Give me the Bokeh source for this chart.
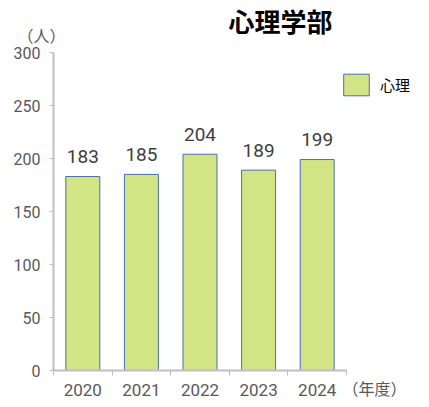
from bokeh.plotting import figure
from bokeh.models import (FixedTicker, Label, Legend, LegendItem, ColumnDataSource, Range1d)
from bokeh.core.properties import value
from bokeh.embed import file_html
from bokeh.resources import INLINE

years = ["2020", "2021", "2022", "2023", "2024"]
counts = [183, 185, 204, 189, 199]
y_ticks = [0, 50, 100, 150, 200, 250, 300]
title_text = "心理学部"
series_name = "心理"
y_unit = "（人）"
x_unit = "（年度）"

NUM_FONT = "Roboto"
CJK_FONT = "Noto Sans CJK JP"
TICK_COLOR = "#595959"
AXIS_COLOR = "#bfbfbf"

W, H = 429, 407
# plot area in pixels (frame covers whole figure, axes pinned to the data origin)
PX_L, PX_R, PX_T, PX_B = 53, 346, 52, 370
n = len(years)
y_max = y_ticks[-1]
sx = (PX_R - PX_L) / n
sy = (PX_B - PX_T) / y_max

xs = [i + 0.5 for i in range(n)]
src = ColumnDataSource(dict(x=xs, top=counts, label=[str(c) for c in counts]))

p = figure(width=W, height=H, output_backend="svg", toolbar_location=None,
           x_range=Range1d(-PX_L / sx, (W - PX_L) / sx),
           y_range=Range1d(-(H - PX_B) / sy, y_max + PX_T / sy),
           min_border=0)
p.outline_line_color = None
p.xgrid.visible = False
p.ygrid.visible = False
p.background_fill_color = "white"
p.border_fill_color = "white"

bars = p.vbar(x="x", top="top", width=0.58, source=src,
              fill_color="#d3e485", line_color="#4a6db5", line_width=1)

p.text(x="x", y="top", text="label", source=src, text_align="center",
       text_baseline="alphabetic", y_offset=-20,
       text_font=value(NUM_FONT), text_font_size="19px", text_color="#404040")

# y axis
ya = p.yaxis[0]
ya.fixed_location = 0
ya.bounds = (0, y_max)
ya.ticker = FixedTicker(ticks=y_ticks)
ya.axis_line_color = AXIS_COLOR
ya.axis_line_width = 2
ya.major_tick_line_color = AXIS_COLOR
ya.major_tick_line_width = 1
ya.major_tick_out = 4
ya.major_tick_in = 0
ya.minor_tick_line_color = None
ya.major_label_standoff = 9
ya.major_label_text_font = NUM_FONT
ya.major_label_text_font_size = "16px"
ya.major_label_text_color = TICK_COLOR

# x axis
xa = p.xaxis[0]
xa.fixed_location = 0
xa.bounds = (0, n)
xa.ticker = FixedTicker(ticks=xs, minor_ticks=list(range(n + 1)))
xa.major_label_overrides = {x: y for x, y in zip(xs, years)}
xa.axis_line_color = AXIS_COLOR
xa.axis_line_width = 2
xa.major_tick_line_color = None
xa.major_tick_out = 0
xa.major_tick_in = 0
xa.minor_tick_line_color = AXIS_COLOR
xa.minor_tick_out = 5
xa.minor_tick_in = 0
xa.major_label_standoff = 8
xa.major_label_text_font = NUM_FONT
xa.major_label_text_font_size = "17px"
xa.major_label_text_color = TICK_COLOR

# annotations
p.add_layout(Label(x=0, y=y_max, x_offset=-12, y_offset=18, text=y_unit,
                   text_align="center", text_baseline="middle",
                   text_font=CJK_FONT, text_font_size="16px", text_color=TICK_COLOR))
p.add_layout(Label(x=n, y=0, x_offset=-4, y_offset=-17, text=x_unit,
                   text_align="left", text_baseline="middle",
                   text_font=CJK_FONT, text_font_size="16px", text_color=TICK_COLOR))
p.add_layout(Label(x=n, y=y_max, x_offset=-66, y_offset=32, text=title_text,
                   text_align="center", text_baseline="middle",
                   text_font=CJK_FONT, text_font_size="26px", text_font_style="bold",
                   text_color="#000000"))

legend = Legend(items=[LegendItem(label=series_name, renderers=[bars])],
                location=(340, H - 98), glyph_width=32, glyph_height=27,
                padding=0, margin=0, spacing=0, label_standoff=8,
                border_line_color=None, background_fill_alpha=0,
                label_text_font=CJK_FONT, label_text_font_size="15px",
                label_text_color="#000000")
p.add_layout(legend)

open("out.html", "w").write(file_html(p, INLINE))
